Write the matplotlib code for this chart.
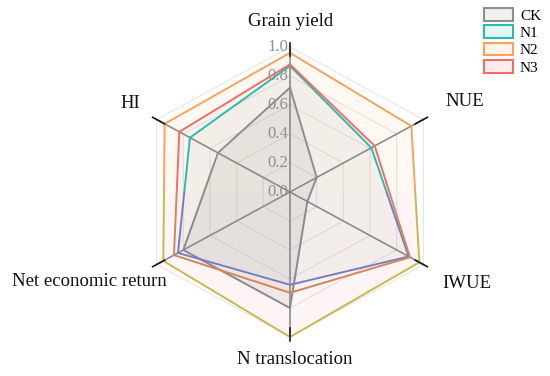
import numpy as np
import matplotlib
matplotlib.use('Agg')
import matplotlib.pyplot as plt
from matplotlib.patches import Rectangle, Patch

plt.rcParams['font.family'] = ['Liberation Serif', 'DejaVu Serif']

# ---------------- data ----------------
categories = ['Grain yield', 'NUE', 'IWUE', 'N translocation', 'Net economic return', 'HI']
series_names = ['CK', 'N1', 'N2', 'N3']
ck = [0.72, 0.20, 0.13, 0.80, 0.80, 0.54]
n1 = [0.87, 0.61, 0.89, 0.64, 0.84, 0.75]
n2 = [0.96, 0.91, 0.97, 1.00, 0.95, 0.94]
n3 = [0.88, 0.635, 0.90, 0.695, 0.87, 0.83]
radial_ticks = [0.0, 0.2, 0.4, 0.6, 0.8, 1.0]
radial_tick_labels = ['0.0', '0.2', '0.4', '0.6', '0.8', '1.0']

# ---------------- style ----------------
colors = {'CK': '#8e8e8e', 'N1': '#2bbbad', 'N2': '#f7a35c', 'N3': '#f26d63'}
lower_colors = {'CK': '#8b8890', 'N1': '#7480bd', 'N2': '#c9b84c', 'N3': '#d1875e'}
fill_upper = {'CK': ('#8e8e8e', 0.13), 'N1': ('#2bbbad', 0.05),
              'N2': ('#f7a35c', 0.07), 'N3': ('#f26d63', 0.04)}
fill_lower = {'CK': ('#8e8e8e', 0.13), 'N1': ('#2bbbad', 0.05),
              'N2': ('#f08a8a', 0.08), 'N3': ('#f26d63', 0.04)}
axis_deg = [90, 30, -30, -90, -150, 150]
angles = np.deg2rad(axis_deg)

W, H = 550, 376
CX, CY = 290, 192          # centre in pixels (from top-left)
SX, SY = 154, 145          # pixels per unit

fig = plt.figure(figsize=(W / 100, H / 100), dpi=100)
ax = fig.add_axes([0, 0, 1, 1])
ax.set_xlim(-CX / SX, (W - CX) / SX)
ax.set_ylim(-(H - CY) / SY, CY / SY)
ax.axis('off')


def polygon(vals):
    v = np.asarray(vals, dtype=float)
    x = v * np.cos(angles)
    y = v * np.sin(angles)
    return np.append(x, x[0]), np.append(y, y[0])


def upper_clip():
    return Rectangle((-5, 0), 10, 5, transform=ax.transData)


def lower_clip():
    return Rectangle((-5, -5), 10, 5, transform=ax.transData)


# grid hexagons
for r in radial_ticks[1:]:
    gx, gy = polygon([r] * len(categories))
    ax.plot(gx, gy, color='#e6e6e6', lw=0.8, zorder=1)

# fills
data = {'CK': ck, 'N1': n1, 'N2': n2, 'N3': n3}
for name in series_names:
    px, py = polygon(data[name])
    c, a = fill_upper[name]
    pu = ax.fill(px, py, color=c, alpha=a, lw=0, zorder=2)[0]
    pu.set_clip_path(upper_clip())
    c, a = fill_lower[name]
    pl = ax.fill(px, py, color=c, alpha=a, lw=0, zorder=2)[0]
    pl.set_clip_path(lower_clip())

# spokes
for a in angles:
    ax.plot([0, 1.0 * np.cos(a)], [0, 1.0 * np.sin(a)], color='#8c8c8c', lw=1.2, zorder=3)
    ax.plot([0.94 * np.cos(a), 1.03 * np.cos(a)], [0.94 * np.sin(a), 1.03 * np.sin(a)],
            color='#1a1a1a', lw=1.2, zorder=5)

# series lines (upper half / lower half tinted)
for name in series_names:
    px, py = polygon(data[name])
    lu, = ax.plot(px, py, color=colors[name], lw=1.4, zorder=4)
    lu.set_clip_path(upper_clip())
    ll, = ax.plot(px, py, color=lower_colors[name], lw=1.4, zorder=4)
    ll.set_clip_path(lower_clip())

# radial tick labels
for r, lab in zip(radial_ticks, radial_tick_labels):
    ax.text(-1.5 / SX, r, lab, ha='right', va='center', fontsize=12, color='#8f8f8f', zorder=6)

# category labels (pixel positions)
label_pos = {
    'Grain yield': (291, 22, 'center'),
    'NUE': (445, 101, 'left'),
    'IWUE': (442, 283, 'left'),
    'N translocation': (295, 360, 'center'),
    'Net economic return': (167, 282, 'right'),
    'HI': (140, 103, 'right'),
}
for cat in categories:
    x, y, ha = label_pos[cat]
    fig.text(x / W, 1 - y / H, cat, ha=ha, va='center', fontsize=13.5, color='#111111')

# legend
handles = [Patch(facecolor=matplotlib.colors.to_rgba(colors[n], 0.12), edgecolor=colors[n], lw=1.5)
           for n in series_names]
fig.legend(handles, series_names, loc='upper left', bbox_to_anchor=(484 / W, 1 - 8 / H),
           frameon=False, fontsize=11, handlelength=1.9, handleheight=0.9,
           labelspacing=0.18, handletextpad=0.45, borderpad=0, borderaxespad=0)

fig.savefig('out.png', dpi=100)
